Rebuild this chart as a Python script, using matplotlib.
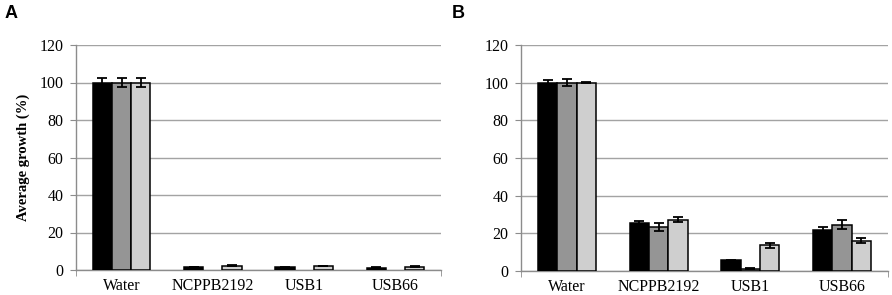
import matplotlib
matplotlib.use("Agg")
import matplotlib.pyplot as plt
import numpy as np

categories = ["Water", "NCPPB2192", "USB1", "USB66"]

# Panel A values (three series) and errors
a_s1 = [100, 1.6, 1.4, 1.2]
a_s2 = [100, 0.0, 0.0, 0.0]
a_s3 = [100, 2.3, 2.1, 1.8]
a_e1 = [2.6, 0.2, 0.2, 0.2]
a_e2 = [2.6, 0.0, 0.0, 0.0]
a_e3 = [2.6, 0.2, 0.2, 0.2]

# Panel B values and errors
b_s1 = [100, 25.4, 5.8, 21.6]
b_s2 = [100, 23.2, 1.2, 24.5]
b_s3 = [100, 27.2, 13.6, 16.0]
b_e1 = [1.5, 1.3, 0.3, 1.7]
b_e2 = [1.8, 2.2, 0.2, 2.4]
b_e3 = [0.3, 1.4, 1.2, 1.3]

yticks = [0, 20, 40, 60, 80, 100, 120]
colors = ["#000000", "#959595", "#cfcfcf"]

W, H = 892, 295
fig = plt.figure(figsize=(W / 100, H / 100), dpi=100)
serif = ["Liberation Serif", "DejaVu Serif"]
FS = 11.5

def panel(rect, series, errs, ylabel=None):
    ax = fig.add_axes(rect)
    x = np.arange(len(categories))
    bw = 0.21
    for i, (vals, er) in enumerate(zip(series, errs)):
        pos = x + (i - 1) * bw
        heights = [v if v > 0 else np.nan for v in vals]
        ax.bar(pos, heights, width=bw, color=colors[i], edgecolor="black",
               linewidth=1.1, zorder=3)
        ax.errorbar(pos, heights, yerr=er, fmt="none", ecolor="black",
                    elinewidth=1.3, capsize=3.5, capthick=1.3, zorder=4)
    ax.set_xlim(-0.5, len(categories) - 0.5)
    ax.set_ylim(0, 120)
    ax.set_yticks(yticks)
    ax.set_yticklabels([str(t) for t in yticks], fontfamily=serif, fontsize=FS)
    ax.set_xticks(x)
    ax.set_xticklabels(categories, fontfamily=serif, fontsize=FS)
    ax.set_xticks([-0.5, len(categories) - 0.5], minor=True)
    ax.tick_params(axis="x", which="major", length=0, pad=6)
    ax.tick_params(axis="x", which="minor", length=4, color="#8c8c8c")
    ax.tick_params(axis="y", length=4, color="#8c8c8c", pad=5)
    ax.yaxis.grid(True, color="#a3a3a3", linewidth=1.0, zorder=0)
    ax.set_axisbelow(True)
    for s in ["top", "right"]:
        ax.spines[s].set_visible(False)
    for s in ["left", "bottom"]:
        ax.spines[s].set_color("#8c8c8c")
        ax.spines[s].set_linewidth(1.0)
    if ylabel:
        ax.set_ylabel(ylabel, fontfamily=serif, fontsize=10.5, fontweight="bold",
                      labelpad=7)
    return ax

panel([76 / W, 25 / H, 365 / W, 225 / H],
      [a_s1, a_s2, a_s3], [a_e1, a_e2, a_e3], "Average growth (%)")
panel([521 / W, 24 / H, 367 / W, 226 / H],
      [b_s1, b_s2, b_s3], [b_e1, b_e2, b_e3])

fig.text(5 / W, 1 - 14 / H, "A", fontsize=13, fontweight="bold",
         fontfamily="Liberation Sans", va="center", ha="left")
fig.text(452 / W, 1 - 14 / H, "B", fontsize=13, fontweight="bold",
         fontfamily="Liberation Sans", va="center", ha="left")

fig.savefig("out.png", dpi=100, facecolor="white")
